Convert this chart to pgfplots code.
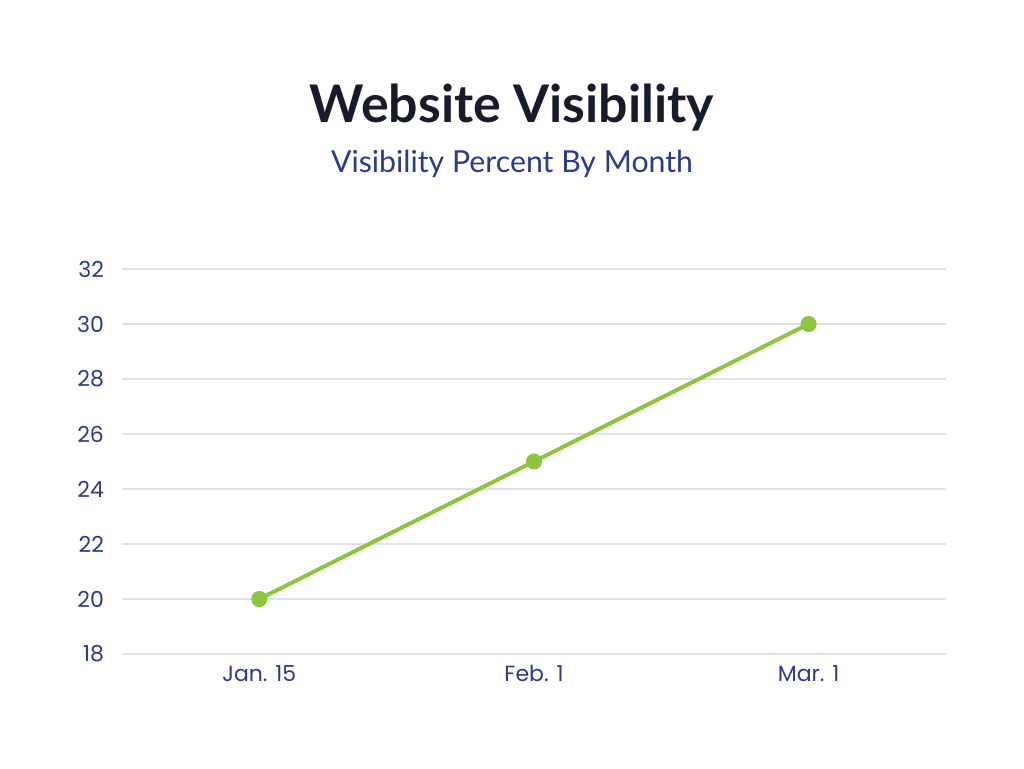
\documentclass[border=0pt]{standalone}
\usepackage{pgfplots}
\pgfplotsset{compat=1.18}
\usepackage{fontspec}
\setmainfont{Poppins}
\newfontfamily\lato{Lato}
\definecolor{titlec}{HTML}{171C2C}
\definecolor{blueC}{HTML}{2B3990}
\definecolor{greenC}{HTML}{8CC63F}
\definecolor{gridC}{HTML}{DFE2EC}
\begin{document}
\begin{tikzpicture}
\path[fill=white] (0,0) rectangle (768pt,576pt);
\node[font=\lato\bfseries\fontsize{38.9}{47}\selectfont, text=titlec] at (384pt,495pt) {Website Visibility};
\node[font=\lato\fontsize{22.7}{27}\selectfont, text=blueC] at (384pt,453pt) {Visibility Percent By Month};
\begin{axis}[
  at={(91.5pt,85.5pt)}, anchor=south west,
  scale only axis, width=618pt, height=288.75pt,
  xmin=-0.5, xmax=2.5, ymin=18, ymax=32,
  xtick={0,1,2}, xticklabels={Jan. 15, Feb. 1, Mar. 1},
  ytick={18,20,...,32},
  axis line style={draw=none},
  major tick length=0pt,
  ymajorgrids, grid style={gridC, line width=0.9pt},
  tick label style={text=blueC, font=\fontsize{16.5}{19}\selectfont},
  /pgf/number format/assume math mode=true,
  yticklabel style={xshift=-10pt},
  xticklabel style={yshift=-5pt},
  clip=false,
]
\addplot[greenC, line width=3pt, mark=*, mark size=4.5pt, mark options={fill=greenC, draw=greenC}] coordinates {(0,20) (1,25) (2,30)};
\end{axis}
\end{tikzpicture}
\end{document}
